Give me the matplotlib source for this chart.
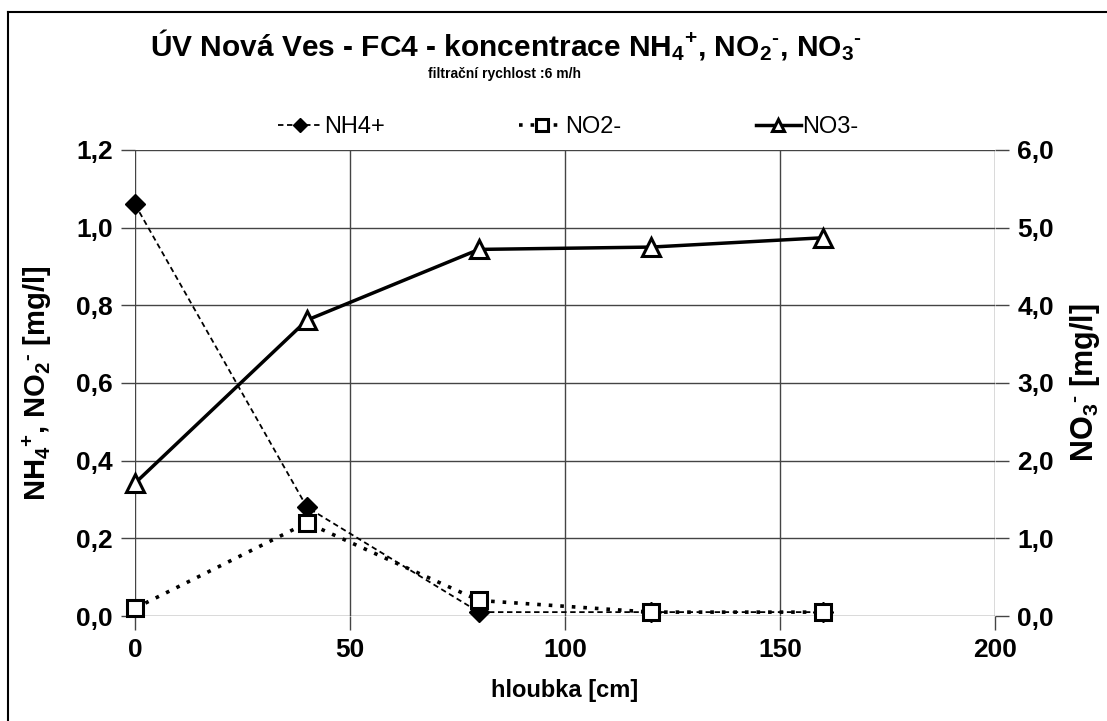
import matplotlib
matplotlib.use("Agg")
import matplotlib.pyplot as plt
from matplotlib.ticker import FuncFormatter, MultipleLocator
from matplotlib.lines import Line2D

plt.rcParams['font.family'] = ['Liberation Sans', 'DejaVu Sans']
plt.rcParams['mathtext.fontset'] = 'custom'
plt.rcParams['mathtext.rm'] = 'Liberation Sans:bold'
plt.rcParams['mathtext.it'] = 'Liberation Sans:bold'
plt.rcParams['mathtext.bf'] = 'Liberation Sans:bold'

# data
depth = [0, 40, 80, 120, 160]
nh4 = [1.06, 0.28, 0.01, 0.01, 0.01]
no2 = [0.02, 0.24, 0.04, 0.01, 0.01]
no3 = [1.71, 3.81, 4.72, 4.75, 4.87]

grid_col = '#444444'
hy = '\u2010'  # hyphen for the ion charge


def ion(sub, charge):
    # subscript first, then the charge shifted to the right of it
    return '$_{' + sub + '}{}^{' + charge + '}$'


fig = plt.figure(figsize=(11.07, 7.21), dpi=100)
ax = fig.add_axes([135 / 1107, 1 - 616 / 721, (995 - 135) / 1107, (616 - 150) / 721])
ax2 = ax.twinx()

l1, = ax.plot(depth, nh4, linestyle=(0, (3, 2)), color='black', lw=1.3,
              marker='D', ms=10, mfc='black', mec='black', label='NH4+', clip_on=False)
l2, = ax.plot(depth, no2, linestyle=(0, (1, 2.2)), color='black', lw=2.6,
              marker='s', ms=12, mfc='white', mec='black', mew=2.2, label='NO2-', clip_on=False)
l3, = ax2.plot(depth, no3, linestyle='-', color='black', lw=2.5,
               marker='^', ms=13, mfc='white', mec='black', mew=2.2, label='NO3-', clip_on=False)

ax.set_xlim(0, 200)
ax.set_ylim(0, 1.2)
ax2.set_ylim(0, 6)
ax.xaxis.set_major_locator(MultipleLocator(50))
ax.yaxis.set_major_locator(MultipleLocator(0.2))
ax2.yaxis.set_major_locator(MultipleLocator(1))

comma = FuncFormatter(lambda v, p: f"{v:.1f}".replace('.', ','))
ax.yaxis.set_major_formatter(comma)
ax2.yaxis.set_major_formatter(comma)

ax.grid(True, color=grid_col, lw=1)
ax.set_axisbelow(True)
for a in (ax, ax2):
    for s in a.spines.values():
        s.set_visible(False)
    a.tick_params(length=10, width=1, color=grid_col, labelsize=19, pad=6)
for lab in ax.get_xticklabels() + ax.get_yticklabels() + ax2.get_yticklabels():
    lab.set_fontweight('bold')
ax.axvline(0, color='#777777', lw=1.2, zorder=0)

ax.set_xlabel('hloubka [cm]', fontsize=17, fontweight='bold', labelpad=12)
ax.set_ylabel('NH' + ion('4', '+') + ', NO' + ion('2', hy) + ' [mg/l]',
              fontsize=21, fontweight='bold', labelpad=16)
ax2.set_ylabel('NO' + ion('3', hy) + ' [mg/l]', fontsize=22, fontweight='bold', labelpad=10)

fig.text(0.457, 0.937, 'ÚV Nová Ves - FC4 - koncentrace NH' + ion('4', '+') + ', NO'
         + ion('2', hy) + ', NO' + ion('3', hy),
         ha='center', va='center', fontsize=21.5, fontweight='bold')
fig.text(0.456, 0.898, 'filtrační rychlost :6 m/h', ha='center', va='center',
         fontsize=10, fontweight='bold')

leg = fig.legend([l1, l2, l3], ['NH4+', 'NO2-', 'NO3-'], loc='center',
                 bbox_to_anchor=(0.513, 0.824), ncol=3, frameon=False,
                 fontsize=17, handlelength=1.9, handletextpad=0.05,
                 columnspacing=5.7, markerscale=0.7)

# frame lines (top and left only, the rest is cut off)
fig.add_artist(Line2D([8 / 1107, 8 / 1107], [0, 1 - 12 / 721], transform=fig.transFigure,
                      color='black', lw=1.5))
fig.add_artist(Line2D([8 / 1107, 1], [1 - 12 / 721, 1 - 12 / 721], transform=fig.transFigure,
                      color='black', lw=1.5))

fig.savefig('out.png', dpi=100)
